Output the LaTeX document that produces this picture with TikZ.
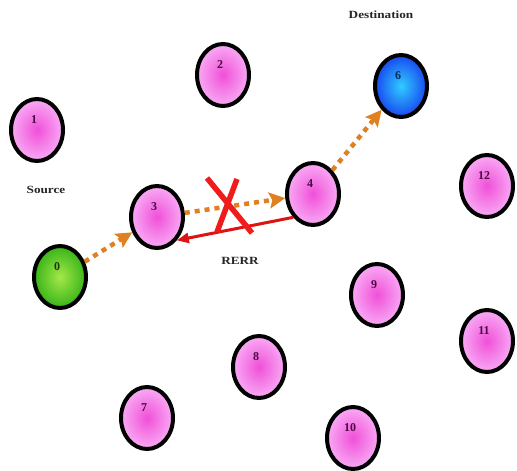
\documentclass[tikz,border=0pt]{standalone}
\usepackage{fontspec}
\setmainfont{Liberation Serif}
\usetikzlibrary{arrows.meta,shapes.geometric}
\definecolor{pinkin}{HTML}{F050D8}
\definecolor{pinkout}{HTML}{F9AAF5}
\definecolor{bluein}{HTML}{30CCFF}
\definecolor{blueout}{HTML}{1848F0}
\definecolor{greenin}{HTML}{A4E848}
\definecolor{greenout}{HTML}{38B418}
\definecolor{numpink}{HTML}{4A0842}
\definecolor{numblue}{HTML}{0A2A5A}
\definecolor{numgreen}{HTML}{1A3A0A}
\definecolor{orng}{HTML}{E08020}
\definecolor{redc}{HTML}{DD1414}
\definecolor{xred}{HTML}{F01C1C}
\begin{document}
\begin{tikzpicture}[x=1pt,y=1pt,
  lab/.style={anchor=center,xshift=-3pt,yshift=-23pt,font=\bfseries\fontsize{12}{12}\selectfont},
  moteshape/.style={ellipse,draw=black,line width=4pt,minimum width=52pt,minimum height=62pt,inner sep=0pt},
  mote/.style={moteshape,inner color=pinkin,outer color=pinkout,label={[lab,text=numpink]90:#1}},
  srcmote/.style={moteshape,inner color=greenin,outer color=greenout,label={[lab,text=numgreen]90:#1}},
  dstmote/.style={moteshape,inner color=bluein,outer color=blueout,label={[lab,text=numblue]90:#1}},
  orangeflow/.style={draw=orng,line width=4.5pt,dash pattern=on 5pt off 5pt,
    -{Stealth[length=16pt,width=16pt,inset=3pt]}},
  rerr/.style={draw=redc,line width=3pt,-{Triangle[length=12pt,width=10pt]}},
  crossline/.style={draw=xred,line width=5.5pt},
  txt/.style={font=\bfseries\fontsize{11}{11}\selectfont,xscale=1.2,text=black!85}]
\useasboundingbox (0,0) rectangle (517,-471);
\fill[white] (0,0) rectangle (517,-471);
\node[mote=1] (n1) at (37,-130) {};
\node[mote=2] (n2) at (223,-75) {};
\node[dstmote=6] (n6) at (401,-86) {};
\node[mote=12] (n12) at (487,-186) {};
\node[mote=4] (n4) at (313,-194) {};
\node[mote=3] (n3) at (157,-217) {};
\node[srcmote=0] (n0) at (60,-277) {};
\node[mote=9] (n9) at (377,-295) {};
\node[mote=11] (n11) at (487,-341) {};
\node[mote=8] (n8) at (259,-367) {};
\node[mote=7] (n7) at (147,-418) {};
\node[mote=10] (n10) at (353,-438) {};
\node[txt] (dest) at (381,-15) {Destination};
\node[txt] (src) at (46,-190) {Source};
\node[txt] (rerrlab) at (240,-261) {RERR};
\draw[orangeflow] (n0) -- (n3);
\draw[orangeflow] (n3) -- (n4);
\draw[orangeflow] (n4) -- (n6);
\draw[rerr] (n4.south west) -- (n3.south east);
\draw[crossline] (207,-178) -- (252,-233);
\draw[crossline] (237,-179) -- (217,-232);
\end{tikzpicture}
\end{document}
